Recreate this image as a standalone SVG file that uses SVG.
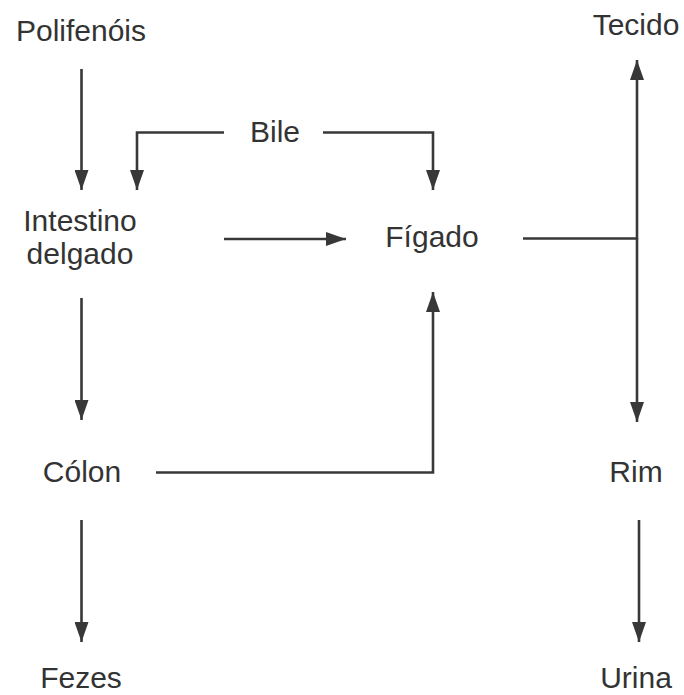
<svg xmlns="http://www.w3.org/2000/svg" width="684" height="695" viewBox="0 0 684 695">
  <style>
    .lbl { font-family: "Liberation Sans", Arial, sans-serif; font-size: 30px; fill: #333333; text-anchor: middle; }
    .edge { fill: none; stroke: #383838; stroke-width: 2.6; }
    .arr { marker-end: url(#head); }
  </style>
  <defs>
    <marker id="head" markerUnits="userSpaceOnUse" markerWidth="20" markerHeight="14" refX="20" refY="7" orient="auto">
      <path d="M0,0 L20,7 L0,14 z" fill="#383838"/>
    </marker>
  </defs>
  <rect width="684" height="695" fill="#ffffff"/>

  <g id="connectors">
    <!-- Polifenóis -> Intestino delgado -->
    <path class="edge arr" d="M81.5,69 V190"/>
    <!-- Bile -> Intestino delgado -->
    <path class="edge arr" d="M224,132.5 H137 V190"/>
    <!-- Bile -> Fígado -->
    <path class="edge arr" d="M323,132.5 H433 V190"/>
    <!-- Intestino delgado -> Fígado -->
    <path class="edge arr" d="M224,239 H346"/>
    <!-- Intestino delgado -> Cólon -->
    <path class="edge arr" d="M81.5,298 V420"/>
    <!-- Cólon -> Fígado -->
    <path class="edge arr" d="M156,472.5 H433 V292"/>
    <!-- Cólon -> Fezes -->
    <path class="edge arr" d="M81.5,520 V642"/>
    <!-- Fígado -> junction -->
    <path class="edge" d="M523,238.5 H637"/>
    <!-- junction -> Tecido -->
    <path class="edge arr" d="M637,239 V60"/>
    <!-- junction -> Rim -->
    <path class="edge arr" d="M637,238 V422"/>
    <!-- Rim -> Urina -->
    <path class="edge arr" d="M639,520 V642"/>
  </g>

  <g id="polifenois"><text class="lbl" x="81" y="41">Polifenóis</text></g>
  <g id="bile"><text class="lbl" x="275" y="142">Bile</text></g>
  <g id="intestino"><text class="lbl" x="80" y="231">Intestino</text><text class="lbl" x="80" y="264">delgado</text></g>
  <g id="figado"><text class="lbl" x="432" y="247">Fígado</text></g>
  <g id="colon"><text class="lbl" x="82" y="482">Cólon</text></g>
  <g id="fezes"><text class="lbl" x="81" y="688">Fezes</text></g>
  <g id="tecido"><text class="lbl" x="636" y="35">Tecido</text></g>
  <g id="rim"><text class="lbl" x="636" y="482">Rim</text></g>
  <g id="urina"><text class="lbl" x="636" y="688">Urina</text></g>
</svg>
